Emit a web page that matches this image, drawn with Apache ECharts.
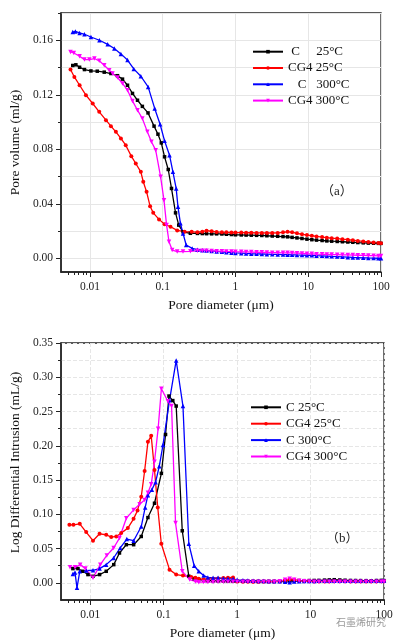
<!DOCTYPE html>
<html>
<head>
<meta charset="utf-8">
<script src="https://cdn.jsdelivr.net/npm/echarts@6.0.0/dist/echarts.min.js"></script>
<style>
html, body { margin: 0; padding: 0; background: #fff; }
#chart { width: 398px; height: 643px; }
</style>
</head>
<body>
<div id="chart"></div>
<script>
var namesA = ['\u00a0C\u00a0\u00a0\u00a0\u00a0\u00a025°C', 'CG4 25°C', '\u00a0\u00a0\u00a0C\u00a0\u00a0\u00a0300°C', 'CG4 300°C'];
var namesB = ['C 25°C', 'CG4 25°C', 'C 300°C', 'CG4 300°C'];

var xMajor = [0.01, 0.1, 1, 10, 100];
var xMinor = [0.005, 0.006, 0.007, 0.008, 0.009, 0.02, 0.03, 0.04, 0.05, 0.06, 0.07, 0.08, 0.09,
    0.2, 0.3, 0.4, 0.5, 0.6, 0.7, 0.8, 0.9, 2, 3, 4, 5, 6, 7, 8, 9, 20, 30, 40, 50, 60, 70, 80, 90];
var yMajorA = [0, 0.04, 0.08, 0.12, 0.16];
var yMinorA = [0, 0.02, 0.04, 0.06, 0.08, 0.1, 0.12, 0.14, 0.16, 0.18];
var yMajorB = [0, 0.05, 0.1, 0.15, 0.2, 0.25, 0.3, 0.35];
var yMinorB = [0, 0.025, 0.05, 0.075, 0.1, 0.125, 0.15, 0.175, 0.2, 0.225, 0.25, 0.275, 0.3, 0.325, 0.35];

// pore diameter (um) of the coarse points, shared by every curve
var tailD = [0.3, 0.35, 0.4, 0.47, 0.55, 0.65, 0.75, 0.88, 1.0, 1.2, 1.4, 1.65, 1.95, 2.3, 2.7, 3.2, 3.8, 4.5, 5.2, 6.0,
    7.0, 8.2, 9.6, 11.2, 13, 15.5, 18, 21, 25, 29.5, 35, 41, 48, 57, 67, 79, 92, 100];

// (a) cumulative pore volume
var volC25Head = [[0.0058, 0.1415], [0.0064, 0.1420], [0.0072, 0.1402], [0.0084, 0.1385], [0.0103, 0.1375], [0.0126, 0.1373],
    [0.0157, 0.1366], [0.0194, 0.1356], [0.0239, 0.1340], [0.0280, 0.1315], [0.0328, 0.1270], [0.0384, 0.1210], [0.0450, 0.1160],
    [0.0525, 0.1115], [0.0628, 0.1067], [0.0760, 0.0970], [0.0860, 0.0911], [0.0956, 0.0847], [0.1060, 0.0745], [0.1190, 0.0652],
    [0.1320, 0.0513], [0.1500, 0.0334], [0.1660, 0.0244], [0.1900, 0.0195], [0.2400, 0.0184]];
var volC25Tail = [0.0183, 0.0182, 0.0181, 0.018, 0.018, 0.0179, 0.0177, 0.0175, 0.0173, 0.0172, 0.0171, 0.017, 0.0169, 0.0168,
    0.0166, 0.0164, 0.0162, 0.016, 0.0158, 0.0154, 0.015, 0.0146, 0.0141, 0.0137, 0.0134, 0.0131, 0.0128, 0.0126, 0.0124, 0.0122,
    0.012, 0.0118, 0.0116, 0.0114, 0.0112, 0.0111, 0.011, 0.011];

var volCG425Head = [[0.0054, 0.1385], [0.0061, 0.1331], [0.0072, 0.1270], [0.0088, 0.1197], [0.0109, 0.1136], [0.0134, 0.1075],
    [0.0166, 0.1014], [0.0194, 0.0970], [0.0227, 0.0928], [0.0266, 0.0880], [0.0310, 0.0830], [0.0370, 0.0750], [0.0426, 0.0696],
    [0.0500, 0.0635], [0.0540, 0.0562], [0.0600, 0.0488], [0.0670, 0.0383], [0.0740, 0.0334], [0.0890, 0.0286], [0.1060, 0.0251],
    [0.1280, 0.0232], [0.1580, 0.0205], [0.2000, 0.0196], [0.2500, 0.0195]];
var volCG425Tail = [0.0192, 0.0196, 0.0203, 0.0199, 0.0194, 0.0192, 0.0191, 0.019, 0.0189, 0.0189, 0.0188, 0.0188, 0.0187, 0.0187,
    0.0186, 0.0186, 0.0187, 0.0191, 0.0195, 0.0192, 0.0184, 0.0177, 0.0171, 0.0166, 0.0161, 0.0156, 0.0152, 0.0148, 0.0145, 0.0141,
    0.0137, 0.0133, 0.0128, 0.0124, 0.012, 0.0116, 0.0113, 0.0111];

var volC300Head = [[0.0058, 0.1660], [0.0063, 0.1665], [0.0072, 0.1654], [0.0084, 0.1644], [0.0103, 0.1624], [0.0135, 0.1600],
    [0.0175, 0.1570], [0.0216, 0.1540], [0.0266, 0.1500], [0.0328, 0.1455], [0.0400, 0.1390], [0.0500, 0.1336], [0.0630, 0.1258],
    [0.0775, 0.1100], [0.0920, 0.0984], [0.1060, 0.0862], [0.1240, 0.0757], [0.1380, 0.0635], [0.1530, 0.0513], [0.1620, 0.0378],
    [0.1750, 0.0257], [0.1900, 0.0183], [0.2100, 0.0098], [0.2540, 0.0073]];
var volC300Tail = [0.0064, 0.006, 0.0057, 0.0054, 0.0051, 0.0048, 0.0045, 0.0042, 0.004, 0.0038, 0.0036, 0.0034, 0.0033, 0.0032,
    0.0031, 0.003, 0.0029, 0.0028, 0.0027, 0.0026, 0.0025, 0.0024, 0.0023, 0.0022, 0.002, 0.0019, 0.0017, 0.0015, 0.0013, 0.0011,
    0.0009, 0.0007, 0.0006, 0.0004, 0.0003, 0.0002, 0.0001, 0.0001];

var volCG4300Head = [[0.0054, 0.1514], [0.0060, 0.1507], [0.0072, 0.1483], [0.0084, 0.1458], [0.0098, 0.1458], [0.0115, 0.1466],
    [0.0134, 0.1449], [0.0157, 0.1417], [0.0184, 0.1380], [0.0204, 0.1356], [0.0239, 0.1327], [0.0280, 0.1283], [0.0328, 0.1234],
    [0.0384, 0.1155], [0.0450, 0.1087], [0.0525, 0.1026], [0.0615, 0.0928], [0.0700, 0.0855], [0.0800, 0.0794], [0.0935, 0.0598],
    [0.1040, 0.0427], [0.1130, 0.0244], [0.1220, 0.0122], [0.1350, 0.0061], [0.1580, 0.0050], [0.1900, 0.0050], [0.2400, 0.0052]];
var volCG4300Tail = [0.0056, 0.0056, 0.0055, 0.0054, 0.0053, 0.0052, 0.0051, 0.005, 0.0049, 0.0048, 0.0047, 0.0046, 0.0045, 0.0044,
    0.0043, 0.0042, 0.0042, 0.0041, 0.0041, 0.004, 0.0038, 0.0036, 0.0034, 0.0033, 0.0031, 0.003, 0.0029, 0.0028, 0.0027, 0.0026,
    0.0025, 0.0024, 0.0023, 0.0022, 0.0021, 0.002, 0.0018, 0.0017];

// (b) log differential intrusion
var difC25Head = [[0.0058, 0.0208], [0.0068, 0.0208], [0.0079, 0.0169], [0.0093, 0.0121], [0.0109, 0.0096], [0.0134, 0.0121],
    [0.0165, 0.0169], [0.0209, 0.0266], [0.0250, 0.0436], [0.0310, 0.0557], [0.0390, 0.0557], [0.0495, 0.0677], [0.0610, 0.0953],
    [0.0750, 0.1162], [0.0930, 0.1598], [0.1060, 0.2165], [0.1180, 0.2726], [0.1330, 0.2660], [0.1480, 0.2580], [0.1790, 0.0760],
    [0.2200, 0.0096], [0.2600, 0.0060]];
var difC25Tail = [0.0048, 0.004, 0.0035, 0.0032, 0.003, 0.003, 0.0028, 0.0027, 0.0026, 0.0025, 0.0025, 0.0024, 0.0024, 0.0023,
    0.0023, 0.0023, 0.0024, 0.0025, 0.0032, 0.0035, 0.0033, 0.0032, 0.0034, 0.0035, 0.0036, 0.004, 0.0043, 0.0046, 0.0042, 0.0038,
    0.0035, 0.0034, 0.0033, 0.0032, 0.0031, 0.0034, 0.0036, 0.0033];

var difCG425Head = [[0.0052, 0.0847], [0.0059, 0.0847], [0.0072, 0.0862], [0.0088, 0.0741], [0.0109, 0.0615], [0.0134, 0.0716],
    [0.0165, 0.0702], [0.0193, 0.0668], [0.0226, 0.0677], [0.0264, 0.0727], [0.0325, 0.0799], [0.0389, 0.0934], [0.0440, 0.1057],
    [0.0495, 0.1258], [0.0550, 0.1632], [0.0610, 0.2058], [0.0676, 0.2145], [0.0750, 0.1646], [0.0830, 0.1100], [0.0928, 0.0571],
    [0.1200, 0.0193], [0.1480, 0.0121], [0.1830, 0.0106], [0.2370, 0.0087], [0.2700, 0.0075]];
var difCG425Tail = [0.006, 0.005, 0.0055, 0.006, 0.0065, 0.007, 0.0075, 0.0078, 0.002, 0.0015, 0.0015, 0.0014, 0.0014, 0.0015,
    0.0016, 0.0018, 0.002, 0.0035, 0.005, 0.0045, 0.003, 0.0025, 0.0022, 0.002, 0.002, 0.002, 0.0021, 0.0022, 0.0022, 0.0022,
    0.0021, 0.0021, 0.002, 0.002, 0.002, 0.0021, 0.0022, 0.0022];

var difC300Head = [[0.0058, 0.0131], [0.0062, 0.0150], [0.0066, -0.0073], [0.0072, 0.0169], [0.0088, 0.0179], [0.0109, 0.0184],
    [0.0134, 0.0208], [0.0165, 0.0266], [0.0208, 0.0363], [0.0256, 0.0509], [0.0315, 0.0639], [0.0390, 0.0615], [0.0495, 0.0822],
    [0.0560, 0.1100], [0.0610, 0.1280], [0.0690, 0.1360], [0.0775, 0.1468], [0.0870, 0.1700], [0.0978, 0.2010], [0.1200, 0.2663],
    [0.1480, 0.3245], [0.1830, 0.2580], [0.2200, 0.0570], [0.2600, 0.0250]];
var difC300Tail = [0.017, 0.0106, 0.008, 0.0073, 0.0073, 0.0065, 0.006, 0.0055, 0.0045, 0.004, 0.0035, 0.003, 0.0028, 0.0026,
    0.0025, 0.0024, 0.0022, 0.0015, 0.001, 0.002, 0.0025, 0.0027, 0.0028, 0.0029, 0.003, 0.003, 0.003, 0.003, 0.003, 0.003,
    0.003, 0.003, 0.003, 0.0031, 0.0031, 0.0032, 0.0032, 0.0033];

var difCG4300Head = [[0.0053, 0.0227], [0.0062, 0.0227], [0.0073, 0.0266], [0.0086, 0.0208], [0.0109, 0.0073], [0.0137, 0.0266],
    [0.0168, 0.0401], [0.0208, 0.0509], [0.0250, 0.0654], [0.0310, 0.0944], [0.0390, 0.1065], [0.0470, 0.1148], [0.0550, 0.1210],
    [0.0610, 0.1316], [0.0676, 0.1438], [0.0750, 0.1767], [0.0840, 0.2250], [0.0930, 0.2833], [0.1140, 0.2650], [0.1280, 0.2580],
    [0.1450, 0.0872], [0.1790, 0.0169], [0.2260, 0.0048], [0.2700, 0.0020]];
var difCG4300Tail = [0.001, 0.0012, 0.0013, 0.0014, 0.0015, 0.0016, 0.0016, 0.0016, 0.0016, 0.0016, 0.0015, 0.0015, 0.0015, 0.0016,
    0.0016, 0.0018, 0.0025, 0.0045, 0.006, 0.0045, 0.003, 0.0025, 0.002, 0.0018, 0.0017, 0.0017, 0.0016, 0.0016, 0.0016, 0.0016,
    0.0016, 0.0016, 0.0016, 0.0017, 0.0017, 0.0018, 0.0018, 0.0018];

(function (window, document) {
    'use strict';
    var chart = echarts.init(document.getElementById('chart'), null, { renderer: 'canvas' });
    var serif = 'Liberation Serif';
    var colors = ['#000000', '#ff0000', '#0000ff', '#ff00ff'];
    var symbols = ['rect', 'circle', 'triangle', 'triangle'];
    var rotations = [0, 0, 0, 180];
    var sizes = [3.5, 4, 4.5, 4.5];

    function join(head, tail) {
        return head.concat(tailD.map(function (d, i) { return [d, tail[i]]; }));
    }

    var curvesA = [join(volC25Head, volC25Tail), join(volCG425Head, volCG425Tail),
        join(volC300Head, volC300Tail), join(volCG4300Head, volCG4300Tail)];
    var curvesB = [join(difC25Head, difC25Tail), join(difCG425Head, difCG425Tail),
        join(difC300Head, difC300Tail), join(difCG4300Head, difCG4300Tail)];

    var nameStyle = { fontFamily: serif, fontSize: 13.5, color: '#111' };
    var labelStyle = { fontFamily: serif, fontSize: 11.5, color: '#222' };
    var axisLine = { onZero: false, lineStyle: { color: '#222', width: 1.5 } };

    function xAxes(grid, dashed) {
        return [{
            type: 'log', logBase: 10, gridIndex: grid, min: 0.004, max: 100, position: 'bottom',
            name: 'Pore diameter (μm)', nameLocation: 'middle', nameGap: 26, nameTextStyle: nameStyle,
            axisLine: axisLine,
            axisTick: { customValues: xMajor, length: 5, lineStyle: { color: '#222' } },
            axisLabel: Object.assign({ customValues: xMajor, margin: 9, formatter: function (v) { return String(v); } }, labelStyle),
            splitLine: { show: true, lineStyle: { color: '#e6e6e6', type: dashed ? 'dashed' : 'solid' } }
        }, {
            type: 'log', logBase: 10, gridIndex: grid, min: 0.004, max: 100, position: 'bottom',
            axisLine: { show: false, onZero: false },
            axisTick: { customValues: xMinor, length: 3, lineStyle: { color: '#222' } },
            axisLabel: { show: false },
            splitLine: { show: false }
        }];
    }

    function yAxes(grid, min, max, major, minor, name, gap, pad, dashed) {
        return [{
            type: 'value', gridIndex: grid, min: min, max: max, position: 'left',
            name: name, nameLocation: 'middle', nameGap: gap,
            nameTextStyle: Object.assign({ padding: pad }, nameStyle),
            axisLine: axisLine,
            axisTick: { customValues: major, length: 5, lineStyle: { color: '#222' } },
            axisLabel: Object.assign({ customValues: major, margin: 8, formatter: function (v) { return v.toFixed(2); } }, labelStyle),
            splitLine: { show: false }
        }, {
            type: 'value', gridIndex: grid, min: min, max: max, position: 'left',
            axisLine: { show: false, onZero: false },
            axisTick: { customValues: minor, length: 3, lineStyle: { color: '#222' } },
            axisLabel: { show: false },
            splitLine: { show: true, lineStyle: { color: '#e6e6e6', type: dashed ? 'dashed' : 'solid' } }
        }];
    }

    var series = [];
    function addSeries(names, curves, axisIndex) {
        curves.forEach(function (data, i) {
            series.push({
                type: 'line', name: names[i], data: data,
                xAxisIndex: axisIndex, yAxisIndex: axisIndex,
                symbol: symbols[i], symbolSize: sizes[i], symbolRotate: rotations[i],
                lineStyle: { color: colors[i], width: 1.3 },
                itemStyle: { color: colors[i] },
                z: 3
            });
        });
    }
    addSeries(namesA, curvesA, 0);
    addSeries(namesB, curvesB, 2);

    function legend(names, left, top, gap) {
        return {
            data: names, orient: 'vertical', left: left, top: top, padding: 0,
            itemWidth: 30, itemHeight: 4.5, itemGap: gap, selectedMode: false,
            textStyle: { fontFamily: serif, fontSize: 13, color: '#111', lineHeight: 14 }
        };
    }

    var option = {
        animation: false,
        backgroundColor: '#fff',
        grid: [
            { left: 58, top: 13, right: 17, height: 259, show: true, borderColor: '#222', borderWidth: 1.3, backgroundColor: 'transparent' },
            { left: 61, top: 343, right: 14, height: 257, show: true, borderColor: '#222', borderWidth: 1.3, backgroundColor: 'transparent' }
        ],
        xAxis: xAxes(0, false).concat(xAxes(1, true)),
        yAxis: yAxes(0, -0.01, 0.18, yMajorA, yMinorA, 'Pore volume (ml/g)', 34, [0, 0, 0, 0], false)
            .concat(yAxes(1, -0.025, 0.35, yMajorB, yMinorB, 'Log Differential Intrusion (mL/g)', 37, [0, 0, 0, 18], true)),
        legend: [legend(namesA, 252, 44.7, 2.3), legend(namesB, 250, 400.3, 2.4)],
        graphic: [
            { type: 'text', left: 321, top: 185, style: { text: '（a）', font: '13px "Liberation Serif", "Noto Sans CJK SC"', fill: '#222' } },
            { type: 'text', left: 326, top: 532, style: { text: '（b）', font: '13px "Liberation Serif", "Noto Sans CJK SC"', fill: '#222' } },
            { type: 'text', left: 336, top: 617, style: { text: '石墨烯研究', font: '10px "Noto Sans CJK SC"', fill: '#9a9a9a' } }
        ],
        series: series
    };
    chart.setOption(option);
})(window, document);
</script>
</body>
</html>
